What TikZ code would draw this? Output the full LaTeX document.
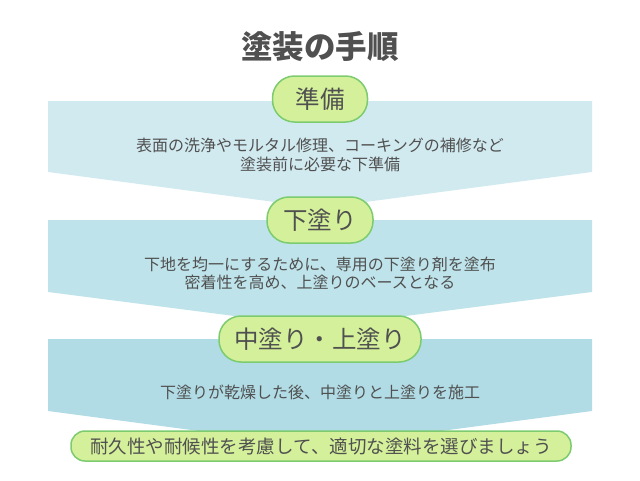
\documentclass[tikz,border=0pt]{standalone}
\usepackage{fontspec}
\usepackage{tikz}
\usetikzlibrary{positioning}
\setmainfont{Noto Sans CJK JP}
\definecolor{bandone}{HTML}{D1EAF0}
\definecolor{bandtwo}{HTML}{BEE3EA}
\definecolor{bandthree}{HTML}{B1DCE5}
\definecolor{pillfill}{HTML}{D4F09A}
\definecolor{pillline}{HTML}{7CCB6E}
\definecolor{inkgray}{HTML}{505050}

\begin{document}
\begin{tikzpicture}[
  x=1pt, y=-1pt,
  pill/.style={draw=pillline, fill=pillfill, line width=1.5pt, rounded corners=22pt, minimum height=46pt, inner xsep=14pt, text=inkgray, font=\fontsize{24.5}{28}\selectfont},
  note/.style={align=center, text=inkgray, font=\fontsize{16}{18.5}\selectfont}
]
  \useasboundingbox (0,0) rectangle (640,480);

  % Title
  \node[text=inkgray, font=\fontsize{31.5}{34}\bfseries] (title) at (320, 47) {塗装の手順};

  % Three chevron bands
  \fill[bandone] (48,101) -- (592,101) -- (592,172) -- (320,208) -- (48,172) -- cycle;
  \fill[bandtwo] (48,220) -- (592,220) -- (592,292) -- (320,327) -- (48,292) -- cycle;
  \fill[bandthree] (48,339) -- (592,339) -- (592,411) -- (320,447) -- (48,411) -- cycle;

  % Step labels
  \node[pill, minimum width=95pt] (prep) at (320, 99) {準備};
  \node[pill, minimum width=106pt] (under) at (320, 220) {下塗り};
  \node[pill, minimum width=202pt] (finish) at (320, 339) {中塗り・上塗り};

  % Step notes
  \node[note] (prepnote) at (320, 155)
    {表面の洗浄やモルタル修理、コーキングの補修など\\塗装前に必要な下準備};
  \node[note] (undernote) at (320, 273.5)
    {下地を均一にするために、専用の下塗り剤を塗布\\密着性を高め、上塗りのベースとなる};
  \node[note] (finishnote) at (320, 392)
    {下塗りが乾燥した後、中塗りと上塗りを施工};

  % Closing advice
  \node[pill, rounded corners=14pt, minimum height=30pt, minimum width=500pt, font=\fontsize{18.5}{22}\selectfont] (tip) at (321, 446)
    {耐久性や耐候性を考慮して、適切な塗料を選びましょう};

\end{tikzpicture}
\end{document}
